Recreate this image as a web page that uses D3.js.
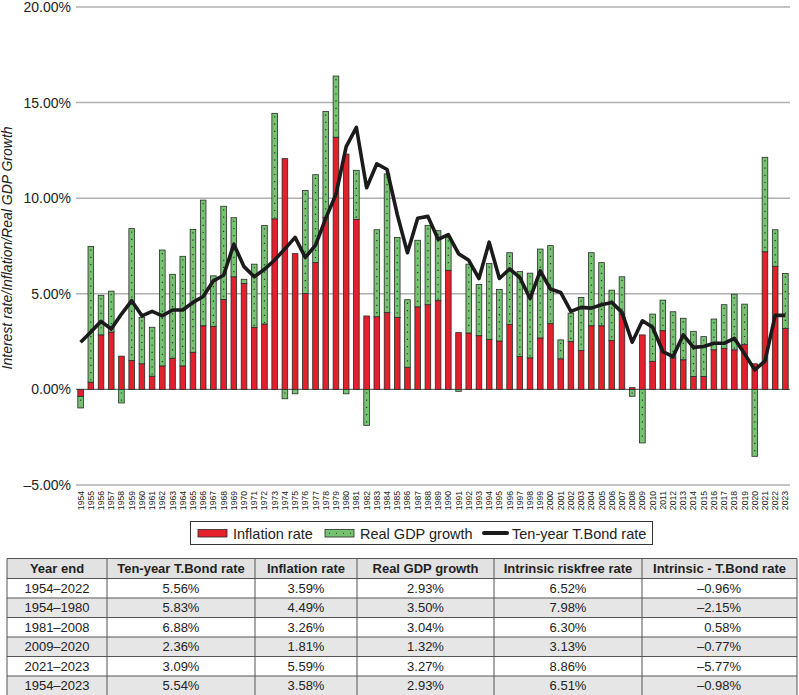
<!DOCTYPE html>
<html>
<head>
<meta charset="utf-8">
<script src="https://cdn.jsdelivr.net/npm/d3@7"></script>
<style>
  body { margin: 0; background: #fff; }
  svg { display: block; font-family: "Liberation Sans", Arial, Helvetica, sans-serif; }
</style>
</head>
<body>
<div id="chart"></div>
<script>
const years = d3.range(1954, 2024);

const inflation = [
  -0.37, 0.38, 2.85, 3.00, 1.74, 1.51, 1.34, 0.69, 1.23, 1.63,
  1.23, 1.94, 3.33, 3.30, 4.70, 5.89, 5.54, 3.25, 3.42, 8.92,
  12.07, 7.10, 5.02, 6.63, 9.00, 13.19, 12.31, 8.89, 3.84, 3.80,
  4.03, 3.77, 1.16, 4.32, 4.43, 4.64, 6.23, 2.97, 2.95, 2.81,
  2.62, 2.53, 3.39, 1.72, 1.65, 2.69, 3.44, 1.60, 2.50, 2.03,
  3.33, 3.33, 2.55, 3.94, 0.09, 2.85, 1.46, 3.07, 1.65, 1.55,
  0.68, 0.68, 2.07, 2.15, 2.07, 2.34, 1.34, 7.20, 6.44, 3.18
];

const gdpGrowth = [
  -0.60, 7.09, 2.07, 2.14, -0.71, 6.90, 2.43, 2.56, 6.06, 4.39,
  5.73, 6.43, 6.57, 2.64, 4.88, 3.09, 0.22, 3.30, 5.16, 5.52,
  -0.49, -0.23, 5.38, 4.60, 5.53, 3.20, -0.23, 2.57, -1.88, 4.55,
  7.24, 4.18, 3.53, 3.48, 4.15, 3.66, 1.72, -0.10, 3.60, 2.68,
  3.96, 2.70, 3.76, 4.44, 4.43, 4.65, 4.08, 0.99, 1.49, 2.78,
  3.82, 3.30, 2.64, 1.95, -0.36, -2.80, 2.48, 1.60, 2.41, 2.17,
  2.36, 2.08, 1.61, 2.28, 2.91, 2.12, -3.50, 4.94, 1.91, 2.88
];

const bondRate = [
  2.47, 3.00, 3.56, 3.16, 3.94, 4.64, 3.85, 4.08, 3.85, 4.15,
  4.15, 4.55, 4.86, 5.68, 5.97, 7.59, 6.42, 5.89, 6.28, 6.77,
  7.35, 7.95, 6.90, 7.55, 8.95, 10.20, 12.70, 13.70, 10.55, 11.80,
  11.50, 9.15, 7.15, 8.95, 9.05, 7.85, 8.10, 7.10, 6.75, 5.80,
  7.70, 5.80, 6.30, 5.85, 4.75, 6.20, 5.25, 5.07, 4.08, 4.29,
  4.25, 4.43, 4.55, 4.03, 2.47, 3.59, 3.25, 1.98, 1.72, 2.85,
  2.20, 2.24, 2.41, 2.41, 2.67, 1.86, 1.02, 1.48, 3.87, 3.87
];

const yTicks = [-5, 0, 5, 10, 15, 20];
const seriesNames = ['Inflation rate', 'Real GDP growth', 'Ten-year T.Bond rate'];

const tableHead = ['Year end', 'Ten-year T.Bond rate', 'Inflation rate', 'Real GDP growth', 'Intrinsic riskfree rate', 'Intrinsic - T.Bond rate'];
const periods = ['1954–2022', '1954–1980', '1981–2008', '2009–2020', '2021–2023', '1954–2023'];
const bondAvg = ['5.56%', '5.83%', '6.88%', '2.36%', '3.09%', '5.54%'];
const inflAvg = ['3.59%', '4.49%', '3.26%', '1.81%', '5.59%', '3.58%'];
const gdpAvg = ['2.93%', '3.50%', '3.04%', '1.32%', '3.27%', '2.93%'];
const intrinsicRate = ['6.52%', '7.98%', '6.30%', '3.13%', '8.86%', '6.51%'];
const intrinsicGap = ['–0.96%', '–2.15%', '0.58%', '–0.77%', '–5.77%', '–0.98%'];

const W = 799, H = 695;
const RED = '#e3202b', GREEN = '#76c372', EDGE = '#2a2a2a';

const svg = d3.select('#chart').append('svg').attr('width', W).attr('height', H);

const rows = years.map((yr, i) => ({ year: yr, inflation: inflation[i], gdp: gdpGrowth[i], bond: bondRate[i] }));

const x = d3.scaleBand().domain(years).range([75.5, 790.5]).paddingInner(0.45).paddingOuter(0.225);
const y = d3.scaleLinear().domain([-5, 20]).range([485, 7]);
const bw = x.bandwidth();

// grid + y labels
svg.append('g').selectAll('line').data(yTicks).join('line')
  .attr('x1', 76).attr('x2', 790)
  .attr('y1', d => y(d)).attr('y2', d => y(d))
  .attr('stroke', d => d === 0 ? '#6a6a6a' : '#b0b0b0')
  .attr('stroke-width', d => d === 0 ? 1.3 : 1.5);

svg.append('g').selectAll('text').data(yTicks).join('text')
  .attr('x', 71).attr('y', d => y(d)).attr('dy', '0.35em')
  .attr('text-anchor', 'end').attr('font-size', 14).attr('fill', '#222')
  .text(d => (d < 0 ? '–' : '') + Math.abs(d).toFixed(2) + '%');

svg.append('text')
  .attr('transform', `translate(12,${y(7.4)}) rotate(-90)`)
  .attr('text-anchor', 'middle').attr('font-size', 14).attr('font-style', 'italic').attr('fill', '#222')
  .text('Interest rate/Inflation/Real GDP Growth');

// stacked bars
const stack = d3.stack().keys(['inflation', 'gdp']).offset(d3.stackOffsetDiverging);
const layers = stack(rows);

const barG = svg.append('g');
layers.forEach((layer, li) => {
  const g = barG.append('g');
  g.selectAll('rect').data(layer).join('rect')
    .attr('x', d => x(d.data.year))
    .attr('width', bw)
    .attr('y', d => y(Math.max(d[0], d[1])))
    .attr('height', d => Math.abs(y(d[0]) - y(d[1])))
    .attr('fill', li === 0 ? RED : GREEN)
    .attr('stroke', EDGE).attr('stroke-width', 0.8);
  if (li === 1) {
    g.selectAll('line').data(layer.filter(d => Math.abs(d[1] - d[0]) > 0.3)).join('line')
      .attr('x1', d => x(d.data.year) + bw / 2).attr('x2', d => x(d.data.year) + bw / 2)
      .attr('y1', d => y(Math.max(d[0], d[1])) + 3)
      .attr('y2', d => y(Math.min(d[0], d[1])) - 1)
      .attr('stroke', '#1f3a1f').attr('stroke-width', 1.2)
      .attr('stroke-dasharray', '1.2 6');
  }
});

// bond line
const line = d3.line().x(d => x(d.year) + bw / 2).y(d => y(d.bond));
svg.append('path').datum(rows)
  .attr('d', line).attr('fill', 'none')
  .attr('stroke', '#1b1b1b').attr('stroke-width', 3.6).attr('stroke-linejoin', 'round');

// x labels
svg.append('g').selectAll('text').data(years).join('text')
  .attr('transform', d => `translate(${x(d) + bw / 2},491) rotate(-90)`)
  .attr('dy', '0.35em').attr('text-anchor', 'end')
  .attr('font-size', 8.6).attr('fill', '#222')
  .text(d => d);

// legend
const lg = svg.append('g');
lg.append('rect').attr('x', 190.5).attr('y', 521.5).attr('width', 462).attr('height', 23)
  .attr('fill', '#fff').attr('stroke', '#333').attr('stroke-width', 1);
const legendItems = [
  { name: seriesNames[0], sx: 198, tx: 233, kind: 'red' },
  { name: seriesNames[1], sx: 325, tx: 360, kind: 'green' },
  { name: seriesNames[2], sx: 484, tx: 512, kind: 'line' }
];
legendItems.forEach(it => {
  if (it.kind === 'line') {
    lg.append('line').attr('x1', it.sx).attr('x2', it.sx + 23).attr('y1', 533).attr('y2', 533)
      .attr('stroke', '#1b1b1b').attr('stroke-width', 4).attr('stroke-linecap', 'round');
  } else {
    lg.append('rect').attr('x', it.sx).attr('y', 529.5).attr('width', 29).attr('height', 7.5)
      .attr('fill', it.kind === 'red' ? RED : GREEN).attr('stroke', EDGE).attr('stroke-width', 0.8);
    if (it.kind === 'green') {
      lg.append('line').attr('x1', it.sx + 4).attr('x2', it.sx + 27).attr('y1', 533.25).attr('y2', 533.25)
        .attr('stroke', '#1f3a1f').attr('stroke-width', 1.1).attr('stroke-dasharray', '1 6');
    }
  }
  lg.append('text').attr('x', it.tx).attr('y', 538.5).attr('font-size', 14.5).attr('fill', '#222').text(it.name);
});

// table
const colEdges = [7, 107, 255, 357, 494, 642, 797];
const tTop = 558.5, headH = 20, rowH = 19.5;
const columns = [periods, bondAvg, inflAvg, gdpAvg, intrinsicRate, intrinsicGap];
const tg = svg.append('g');

tg.append('rect').attr('x', colEdges[0]).attr('y', tTop).attr('width', colEdges[6] - colEdges[0]).attr('height', headH)
  .attr('fill', '#e2e2e2');
tg.selectAll('rect.band').data(periods).join('rect').attr('class', 'band')
  .attr('x', colEdges[0]).attr('width', colEdges[6] - colEdges[0])
  .attr('y', (d, i) => tTop + headH + i * rowH).attr('height', rowH)
  .attr('fill', (d, i) => i % 2 === 1 ? '#e6e6e6' : '#fff');

const tBottom = tTop + headH + periods.length * rowH;
const hLines = [tTop, tTop + headH].concat(periods.map((d, i) => tTop + headH + (i + 1) * rowH));
tg.selectAll('line.h').data(hLines).join('line').attr('class', 'h')
  .attr('x1', colEdges[0]).attr('x2', colEdges[6]).attr('y1', d => d).attr('y2', d => d)
  .attr('stroke', '#555').attr('stroke-width', 1);
tg.selectAll('line.v').data(colEdges).join('line').attr('class', 'v')
  .attr('x1', d => d).attr('x2', d => d).attr('y1', tTop).attr('y2', tBottom)
  .attr('stroke', '#555').attr('stroke-width', 1);

tg.selectAll('text.head').data(tableHead).join('text').attr('class', 'head')
  .attr('x', (d, i) => (colEdges[i] + colEdges[i + 1]) / 2).attr('y', tTop + headH / 2).attr('dy', '0.36em')
  .attr('text-anchor', 'middle').attr('font-size', 13).attr('font-weight', 'bold').attr('fill', '#222')
  .text(d => d);

columns.forEach((col, ci) => {
  const last = ci === columns.length - 1;
  tg.append('g').selectAll('text').data(col).join('text')
    .attr('x', last ? 741 : (colEdges[ci] + colEdges[ci + 1]) / 2)
    .attr('y', (d, i) => tTop + headH + i * rowH + rowH / 2).attr('dy', '0.36em')
    .attr('text-anchor', last ? 'end' : 'middle').attr('font-size', 13).attr('fill', '#222')
    .text(d => d);
});
</script>
</body>
</html>
